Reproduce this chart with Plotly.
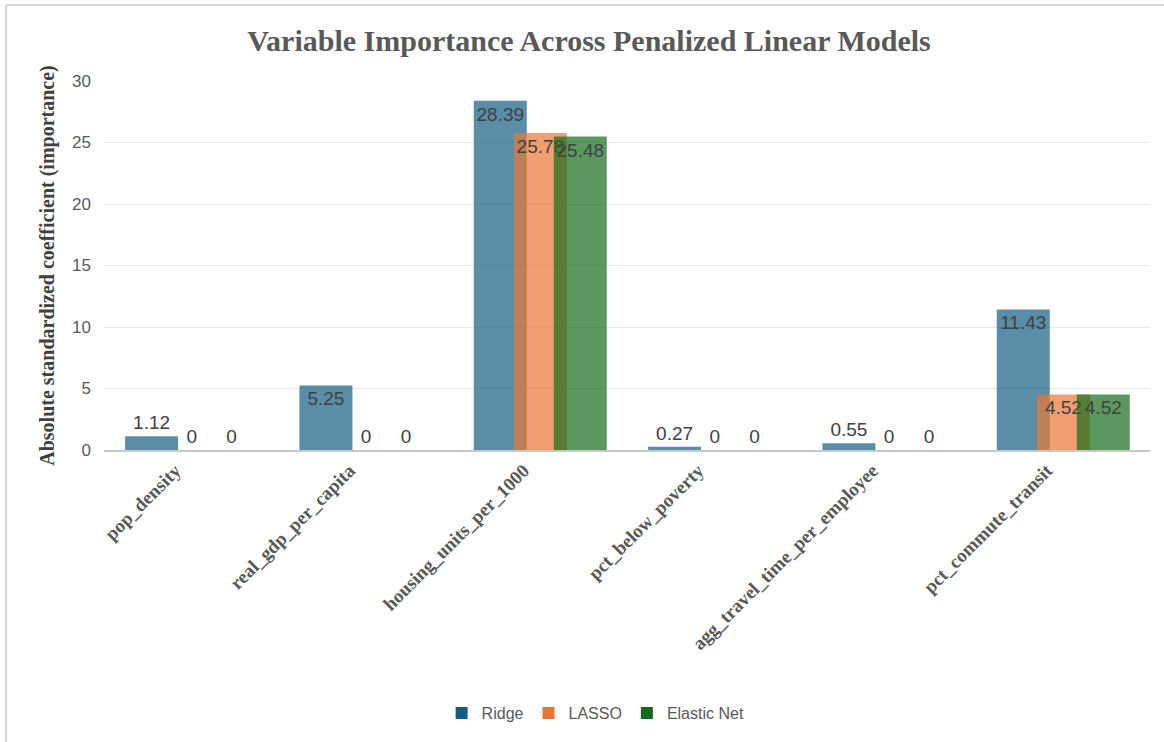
import plotly.graph_objects as go

categories = ["pop_density", "real_gdp_per_capita", "housing_units_per_1000",
              "pct_below_poverty", "agg_travel_time_per_employee", "pct_commute_transit"]
ridge = [1.12, 5.25, 28.39, 0.27, 0.55, 11.43]
lasso = [0, 0, 25.78, 0, 0, 4.52]
elastic = [0, 0, 25.48, 0, 0, 4.52]

series = [("Ridge", ridge, "#135C83", -0.379),
          ("LASSO", lasso, "#E97733", -0.149),
          ("Elastic Net", elastic, "#166C1C", 0.080)]

LABEL_FONT = dict(family="Liberation Sans, Arial", size=19, color="#404040")

fig = go.Figure()
for name, vals, color, off in series:
    fig.add_trace(go.Bar(
        name=name, x=categories, y=vals,
        width=0.304, offset=off,
        marker=dict(color=color, opacity=0.7, line=dict(width=0)),
        text=[f"{v:g}" for v in vals],
        textposition=["inside" if v > 3 else "outside" for v in vals],
        insidetextanchor="end",
        textangle=0,
        constraintext="none",
        cliponaxis=False,
        textfont=LABEL_FONT,
        insidetextfont=LABEL_FONT,
        outsidetextfont=LABEL_FONT,
    ))

fig.update_layout(
    barmode="overlay",
    width=1164, height=742,
    margin=dict(l=104, r=14, t=81, b=292),
    paper_bgcolor="white", plot_bgcolor="white",
    title=dict(text="<b>Variable Importance Across Penalized Linear Models</b>",
               x=0.506, xanchor="center", y=0.946, yanchor="middle",
               font=dict(family="Liberation Serif, Times New Roman", size=30, color="#595959")),
    legend=dict(orientation="h", x=0.47, xanchor="center", y=-0.713, yanchor="middle",
                font=dict(family="Liberation Sans, Arial", size=16, color="#595959"),
                itemwidth=30, traceorder="normal"),
    xaxis=dict(tickangle=-45, showgrid=False, showline=True, linecolor="#C8C8C8", linewidth=2,
               ticks="", range=[-0.5, 5.5], ticklabelshift=-16,
               tickfont=dict(family="Liberation Serif, Times New Roman", size=19,
                             color="#595959", weight="bold")),
    yaxis=dict(range=[0, 30], dtick=5, showgrid=True, gridcolor="#E8E8E8", gridwidth=1,
               zeroline=False, showline=False, ticks="", ticklabelstandoff=12,
               tickfont=dict(family="Liberation Sans, Arial", size=17, color="#595959"),
               title=dict(text="<b>Absolute standardized coefficient (importance)</b>", standoff=12,
                          font=dict(family="Liberation Serif, Times New Roman", size=20, color="#404040"))),
    shapes=[
        dict(type="line", xref="paper", yref="paper", x0=-0.0937, x1=1.2, y0=1.206, y1=1.206,
             line=dict(color="#D9D9D9", width=2)),
        dict(type="line", xref="paper", yref="paper", x0=-0.0937, x1=-0.0937, y0=1.206, y1=-0.9,
             line=dict(color="#D9D9D9", width=2)),
    ],
)

fig.write_html("out.html", config={"displayModeBar": False},
               post_script="document.body.style.margin='0';")
